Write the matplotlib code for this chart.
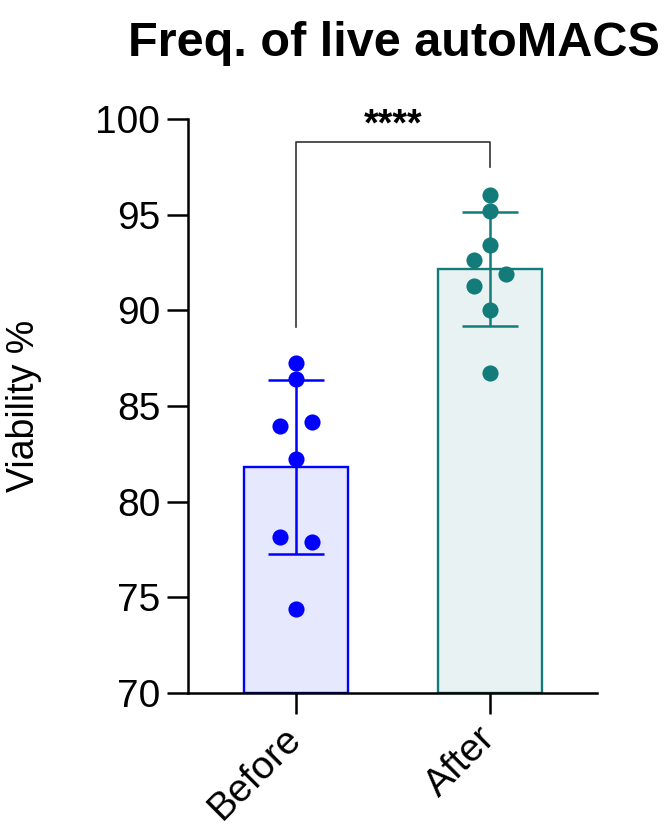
import numpy as np
import matplotlib
matplotlib.use("Agg")
import matplotlib.pyplot as plt

plt.rcParams['font.family'] = ['Liberation Sans', 'DejaVu Sans']

# Daten
groups = ['Before', 'After']
before = [87.23, 86.39, 83.97, 84.18, 82.21, 78.17, 77.89, 74.40]
after = [96.03, 95.21, 93.42, 92.63, 91.90, 91.29, 90.02, 86.71]
jitter = [0, 0, -0.082, 0.082, 0, -0.082, 0.082, 0]
jitter_after = [0, 0, 0, -0.082, 0.082, -0.082, 0, 0]

edge_colors = ['#0000ff', '#137c7a']
fill_colors = ['#e6e8fd', '#e8f2f2']

fig = plt.figure(figsize=(6.64, 8.31), dpi=100)
ax = fig.add_axes([0.283, 0.166, 0.616, 0.691])

for i, (vals, jit) in enumerate([(before, jitter), (after, jitter_after)]):
    vals = np.array(vals)
    mean = vals.mean()
    sd = vals.std(ddof=1)
    ax.bar(i, mean - 70, bottom=70, width=0.54, color=fill_colors[i],
           edgecolor=edge_colors[i], linewidth=1.7, zorder=2)
    ax.errorbar(i, mean, yerr=sd, color=edge_colors[i], capsize=20,
                elinewidth=1.8, capthick=1.8, zorder=3)
    ax.scatter(i + np.array(jit), vals, s=135, color=edge_colors[i],
               zorder=4, linewidths=0)

# Signifikanz-Klammer
ax.plot([0, 0, 1, 1], [89.1, 98.8, 98.8, 97.5], color='#333333', lw=1.2,
        clip_on=False, zorder=5)
ax.text(0.5, 98.7, '****', ha='center', va='bottom', fontsize=27,
        fontweight='bold')

ax.set_ylim(70, 100)
ax.set_xlim(-0.557, 1.552)
ax.set_yticks([70, 75, 80, 85, 90, 95, 100])
ax.set_xticks([0, 1])
ax.set_xticklabels(groups, rotation=45, ha='right', va='center',
                   rotation_mode='anchor')
ax.tick_params(axis='both', labelsize=28, width=1.8, length=15, pad=5)
ax.tick_params(axis='x', pad=14)
ax.spines['top'].set_visible(False)
ax.spines['right'].set_visible(False)
ax.spines['left'].set_linewidth(1.8)
ax.spines['bottom'].set_linewidth(1.8)
ax.set_ylabel('Viability %', fontsize=27, labelpad=38)
fig.text(0.594, 0.933, 'Freq. of live autoMACS', ha='center', va='baseline',
         fontsize=35, fontweight='bold')

fig.savefig('out.png', dpi=100)
